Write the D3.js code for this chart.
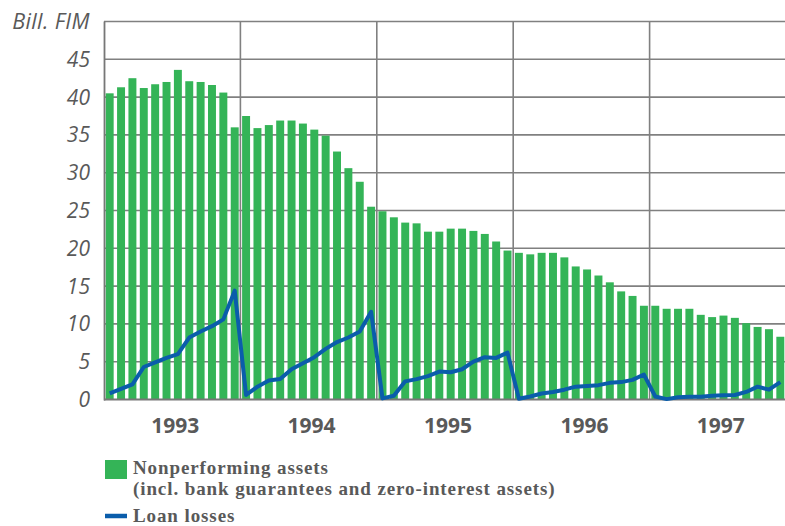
<!DOCTYPE html>
<html>
<head>
<meta charset="utf-8">
<script src="https://cdn.jsdelivr.net/npm/d3@7"></script>
<style>
  html, body { margin: 0; padding: 0; background: #fff; }
  svg { display: block; }
</style>
</head>
<body>
<svg id="chart" width="785" height="526"></svg>
<script>
// ---- data ----
const years = ["1993", "1994", "1995", "1996", "1997"];
const months = d3.range(60); // monthly, Jan 1993 .. Dec 1997
const nonperforming = [
  40.5, 41.3, 42.5, 41.2, 41.7, 42.0, 43.6, 42.1, 42.0, 41.6, 40.6, 36.0,
  37.5, 35.9, 36.3, 36.9, 36.9, 36.5, 35.7, 34.9, 32.8, 30.6, 28.8, 25.5,
  24.9, 24.1, 23.4, 23.3, 22.2, 22.2, 22.6, 22.6, 22.3, 21.9, 20.9, 19.7,
  19.4, 19.2, 19.4, 19.4, 18.8, 17.6, 17.2, 16.4, 15.5, 14.3, 13.7, 12.4,
  12.4, 12.0, 12.0, 12.0, 11.2, 10.9, 11.1, 10.8, 10.1, 9.6, 9.3, 8.3
];
const loanLosses = [
  0.8, 1.4, 2.0, 4.3, 4.9, 5.5, 6.0, 8.2, 9.0, 9.7, 10.6, 14.4,
  0.6, 1.7, 2.5, 2.7, 4.0, 4.8, 5.6, 6.7, 7.6, 8.2, 9.0, 11.6,
  0.15, 0.5, 2.4, 2.7, 3.1, 3.7, 3.6, 4.0, 5.0, 5.6, 5.5, 6.2,
  0.1, 0.4, 0.8, 1.0, 1.3, 1.7, 1.8, 1.9, 2.2, 2.3, 2.6, 3.3,
  0.4, 0.05, 0.3, 0.35, 0.35, 0.5, 0.55, 0.6, 1.0, 1.7, 1.3, 2.3
];
const yTicks = [0, 5, 10, 15, 20, 25, 30, 35, 40, 45];
const unitLabel = "Bill. FIM";
const legendLabels = ["Nonperforming assets", "(incl. bank guarantees and zero-interest assets)", "Loan losses"];

// ---- layout ----
const svg = d3.select("#chart");
const pL = 104, pR = 786, pT = 21.5, pB = 399.5;
const green = "#34b457", blue = "#0a5dab", grid = "#808080", txt = "#595959";

const x = d3.scaleBand().domain(months).range([pL, pR]).paddingInner(0.3).paddingOuter(0.15);
const xm = d3.scaleLinear().domain([0, 60]).range([pL, pR]);
const y = d3.scaleLinear().domain([0, 50]).range([pB, pT]);

// horizontal grid lines
svg.append("g").selectAll("line").data(d3.range(5, 55, 5)).join("line")
  .attr("x1", pL).attr("x2", pR)
  .attr("y1", d => y(d)).attr("y2", d => y(d))
  .attr("stroke", grid).attr("stroke-width", 1.6);

// vertical year boundaries
svg.append("g").selectAll("line").data([12, 24, 36, 48]).join("line")
  .attr("x1", d => xm(d)).attr("x2", d => xm(d))
  .attr("y1", pT).attr("y2", pB)
  .attr("stroke", grid).attr("stroke-width", 1.6);

// bars
svg.append("g").selectAll("rect").data(nonperforming).join("rect")
  .attr("x", (d, i) => x(i)).attr("width", x.bandwidth())
  .attr("y", d => y(d)).attr("height", d => y(0) - y(d))
  .attr("fill", green);

// axes lines
svg.append("line").attr("x1", pL + 0.5).attr("x2", pL + 0.5).attr("y1", pT).attr("y2", pB + 1)
  .attr("stroke", "#777").attr("stroke-width", 1.8);
svg.append("line").attr("x1", pL).attr("x2", pR).attr("y1", pB).attr("y2", pB)
  .attr("stroke", "#777").attr("stroke-width", 1.8);

// loan losses line
const line = d3.line().x((d, i) => x(i) + x.bandwidth() / 2).y(d => y(d));
svg.append("path").datum(loanLosses).attr("d", line)
  .attr("fill", "none").attr("stroke", blue).attr("stroke-width", 4).attr("stroke-linejoin", "round");

// y tick labels
svg.append("g").selectAll("text").data(yTicks).join("text")
  .attr("x", 90).attr("y", d => y(d)).attr("dy", "0.36em")
  .attr("text-anchor", "end")
  .style("font-family", "'Open Sans', 'Noto Sans', sans-serif").style("font-style", "italic")
  .style("font-size", "21px").attr("fill", txt)
  .text(d => d);

svg.append("text").attr("x", 90).attr("y", 29).attr("text-anchor", "end")
  .style("font-family", "'Open Sans', 'Noto Sans', sans-serif").style("font-style", "italic")
  .style("font-size", "21.5px").style("letter-spacing", "0.4px").attr("fill", txt).text(unitLabel);

// year labels
svg.append("g").selectAll("text").data(years).join("text")
  .attr("x", (d, i) => (xm(i * 12) + xm(i * 12 + 12)) / 2 + 3).attr("y", 432.5)
  .attr("text-anchor", "middle")
  .style("font-family", "'Open Sans', 'Noto Sans', sans-serif").style("font-weight", "bold")
  .style("font-size", "21px").attr("fill", txt)
  .text(d => d);

// legend
const lg = svg.append("g");
lg.append("rect").attr("x", 105).attr("y", 460).attr("width", 22).attr("height", 19).attr("fill", green);
lg.append("line").attr("x1", 105).attr("x2", 127).attr("y1", 516).attr("y2", 516)
  .attr("stroke", blue).attr("stroke-width", 4.5);
const lf = t => t.style("font-family", "'Liberation Serif', 'DejaVu Serif', serif").style("font-weight", "bold")
  .style("font-size", "19px").style("letter-spacing", "0.9px").attr("fill", txt);
lg.append("text").attr("x", 133).attr("y", 474).text(legendLabels[0]).call(lf);
lg.append("text").attr("x", 133).attr("y", 495).text(legendLabels[1]).call(lf);
lg.append("text").attr("x", 133).attr("y", 521.5).text(legendLabels[2]).call(lf);
</script>
</body>
</html>
